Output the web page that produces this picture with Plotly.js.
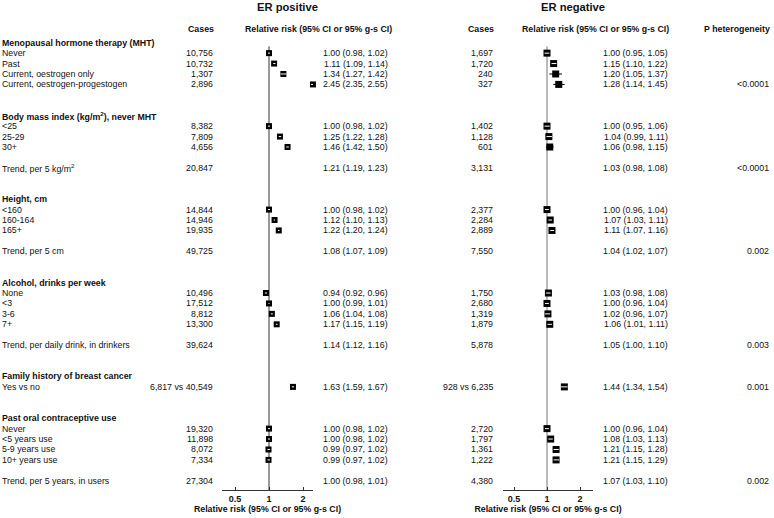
<!DOCTYPE html>
<html>
<head>
<meta charset="utf-8">
<script src="https://cdn.plot.ly/plotly-3.0.1.min.js"></script>
<style>html,body{margin:0;padding:0;background:#fff;}#chart{width:774px;height:518px;}</style>
</head>
<body>
<div id="chart"></div>
<script>
// ---------------- DATA ----------------
const labels = ['Menopausal hormone therapy (MHT)','Never','Past','Current, oestrogen only','Current, oestrogen-progestogen',
  'Body mass index (kg/m<sup>2</sup>), never MHT','&lt;25','25-29','30+','Trend, per 5 kg/m<sup>2</sup>',
  'Height, cm','&lt;160','160-164','165+','Trend, per 5 cm',
  'Alcohol, drinks per week','None','&lt;3','3-6','7+','Trend, per daily drink, in drinkers',
  'Family history of breast cancer','Yes vs no',
  'Past oral contraceptive use','Never','&lt;5 years use','5-9 years use','10+ years use','Trend, per 5 years, in users'];
const kinds = ['h','i','i','i','i', 'h','i','i','i','t', 'h','i','i','i','t', 'h','i','i','i','i','t', 'h','i', 'h','i','i','i','i','t'];

const posCases = ['','10,756','10,732','1,307','2,896', '','8,382','7,809','4,656','20,847', '','14,844','14,946','19,935','49,725',
  '','10,496','17,512','8,812','13,300','39,624', '','6,817 vs 40,549', '','19,320','11,898','8,072','7,334','27,304'];
const posRR = [null,1.00,1.11,1.34,2.45, null,1.00,1.25,1.46,1.21, null,1.00,1.12,1.22,1.08,
  null,0.94,1.00,1.06,1.17,1.14, null,1.63, null,1.00,1.00,0.99,0.99,1.00];
const posLo = [null,0.98,1.09,1.27,2.35, null,0.98,1.22,1.42,1.19, null,0.98,1.10,1.20,1.07,
  null,0.92,0.99,1.04,1.15,1.12, null,1.59, null,0.98,0.98,0.97,0.97,0.98];
const posHi = [null,1.02,1.14,1.42,2.55, null,1.02,1.28,1.50,1.23, null,1.02,1.13,1.24,1.09,
  null,0.96,1.01,1.08,1.19,1.16, null,1.67, null,1.02,1.02,1.02,1.02,1.01];

const negCases = ['','1,697','1,720','240','327', '','1,402','1,128','601','3,131', '','2,377','2,284','2,889','7,550',
  '','1,750','2,680','1,319','1,879','5,878', '','928 vs 6,235', '','2,720','1,797','1,361','1,222','4,380'];
const negRR = [null,1.00,1.15,1.20,1.28, null,1.00,1.04,1.06,1.03, null,1.00,1.07,1.11,1.04,
  null,1.03,1.00,1.02,1.06,1.05, null,1.44, null,1.00,1.08,1.21,1.21,1.07];
const negLo = [null,0.95,1.10,1.05,1.14, null,0.95,0.99,0.98,0.98, null,0.96,1.03,1.07,1.02,
  null,0.98,0.96,0.96,1.01,1.00, null,1.34, null,0.96,1.03,1.15,1.15,1.03];
const negHi = [null,1.05,1.22,1.37,1.45, null,1.06,1.11,1.15,1.08, null,1.04,1.11,1.16,1.07,
  null,1.08,1.04,1.07,1.11,1.10, null,1.54, null,1.04,1.13,1.28,1.29,1.10];

const pHet = ['','','','','&lt;0.0001', '','','','','&lt;0.0001', '','','','','0.002',
  '','','','','','0.003', '','0.001', '','','','','','0.002'];

const tickVals = [0.5, 1, 2];
const tickText = ['0.5', '1', '2'];
const axisTitle = 'Relative risk (95% CI or 95% g-s CI)';

// ---------------- LAYOUT HELPERS ----------------
const W = 774, H = 518;
const row0Px = 42.7, rowPx = 10.43, axisPx = 490;
const rows = [];
let r = 0;
kinds.forEach((k, i) => {
  if (i === 0) r = 0;
  else if (k === 'h') r += 3;
  else if (k === 't') r += 2;
  else r += 1;
  rows.push(r);
});
const pxToRow = p => (p - row0Px) / rowPx;
const yTop = pxToRow(0), yBot = pxToRow(axisPx);

const FONT = 'Liberation Sans, Arial, sans-serif';
const FS = 8.8;
const TXT = '#111';

// panel pixel geometry
const panels = [
  {ax: 'x', one: 269, ppl: 34, left: 222, right: 313, sq: 6, lineCol: '#333',
   rr: posRR, lo: posLo, hi: posHi},
  {ax: 'x2', one: 547, ppl: 33, left: 503, right: 593, sq: 7, lineCol: '#777',
   rr: negRR, lo: negLo, hi: negHi}
];
panels.forEach(p => {
  const k = p.ppl / Math.log10(2);
  p.range = [(p.left - p.one) / k, (p.right - p.one) / k];
  p.domain = [p.left / W, p.right / W];
});

const traces = [];
const shapes = [];
panels.forEach(p => {
  const half = (p.sq / 2) / p.ppl;
  const wx = [], wy = [], wp = [], wm = [];
  const sx = [], sy = [];
  const ix = [], iy = [], ip = [], im = [];
  kinds.forEach((k, i) => {
    if (k !== 'i') return;
    const v = p.rr[i], lo = p.lo[i], hi = p.hi[i];
    sx.push(v); sy.push(rows[i]);
    const inside = Math.log2(hi / v) < half && Math.log2(v / lo) < half;
    if (inside) { ix.push(v); iy.push(rows[i]); ip.push(hi - v); im.push(v - lo); }
    else { wx.push(v); wy.push(rows[i]); wp.push(hi - v); wm.push(v - lo); }
  });
  traces.push({type: 'scatter', mode: 'markers', xaxis: p.ax, yaxis: 'y', x: wx, y: wy,
    marker: {size: 2, opacity: 0}, cliponaxis: false, hoverinfo: 'skip',
    error_x: {type: 'data', symmetric: false, array: wp, arrayminus: wm, color: '#000', thickness: 1, width: 0}});
  traces.push({type: 'scatter', mode: 'markers', xaxis: p.ax, yaxis: 'y', x: sx, y: sy,
    marker: {symbol: 'square', size: p.sq, color: '#000', line: {width: 0}}, cliponaxis: false, hoverinfo: 'skip'});
  traces.push({type: 'scatter', mode: 'markers', xaxis: p.ax, yaxis: 'y', x: ix, y: iy,
    marker: {size: 2, opacity: 0}, cliponaxis: false, hoverinfo: 'skip',
    error_x: {type: 'data', symmetric: false, array: ip, arrayminus: im, color: '#fff', thickness: 1, width: 0}});
  shapes.push({type: 'line', xref: p.ax, yref: 'y', x0: 1, x1: 1, y0: 0.35, y1: yBot,
    line: {color: p.lineCol, width: 1}, layer: 'below'});
});

// ---------------- TEXT ----------------
const ann = [];
function addText(text, px, row, anchor, opts) {
  opts = opts || {};
  ann.push({text: text, xref: 'paper', yref: 'y', x: px / W, y: row, xanchor: anchor, yanchor: 'middle',
    showarrow: false, borderpad: 0, borderwidth: 0,
    font: {family: FONT, size: opts.size || FS, color: TXT, weight: opts.bold ? 'bold' : 'normal'}});
}
const fmt = v => v.toFixed(2);
kinds.forEach((k, i) => {
  const y = rows[i];
  addText(labels[i], 2, y, 'left', {bold: k === 'h'});
  if (k === 'h') return;
  addText(posCases[i], 213, y, 'right');
  addText(fmt(posRR[i]) + ' (' + fmt(posLo[i]) + ', ' + fmt(posHi[i]) + ')', 388, y, 'right');
  addText(negCases[i], 493, y, 'right');
  addText(fmt(negRR[i]) + ' (' + fmt(negLo[i]) + ', ' + fmt(negHi[i]) + ')', 668, y, 'right');
  if (pHet[i]) addText(pHet[i], 769, y, 'right');
});
// headers
const hdrRow = pxToRow(29), ttlRow = pxToRow(7);
addText('ER positive', 287, ttlRow, 'center', {bold: true, size: 11.2});
addText('ER negative', 573, ttlRow, 'center', {bold: true, size: 11.2});
addText('Cases', 214, hdrRow, 'right', {bold: true});
addText(axisTitle, 392, hdrRow, 'right', {bold: true});
addText('Cases', 494, hdrRow, 'right', {bold: true});
addText(axisTitle, 669, hdrRow, 'right', {bold: true});
addText('P heterogeneity', 770, hdrRow, 'right', {bold: true});

function xax(p) {
  return {type: 'log', domain: p.domain, range: p.range, anchor: 'y', showgrid: false, zeroline: false,
    showline: true, linecolor: '#333', linewidth: 1, ticks: 'inside', ticklen: 3, tickcolor: '#333', tickwidth: 1,
    tickvals: tickVals, ticktext: tickText, fixedrange: true,
    tickfont: {family: FONT, size: 9, color: TXT, weight: 'bold'},
    title: {text: axisTitle, font: {family: FONT, size: FS, color: TXT, weight: 'bold'}, standoff: 2}};
}

const layout = {
  width: W, height: H, margin: {l: 0, r: 0, t: 0, b: 0},
  paper_bgcolor: '#fff', plot_bgcolor: 'rgba(0,0,0,0)', showlegend: false,
  xaxis: xax(panels[0]), xaxis2: xax(panels[1]),
  yaxis: {domain: [1 - axisPx / H, 1], range: [yBot, yTop], visible: false, fixedrange: true},
  annotations: ann, shapes: shapes
};
Plotly.newPlot('chart', traces, layout, {displayModeBar: false, staticPlot: true});
</script>
</body>
</html>
